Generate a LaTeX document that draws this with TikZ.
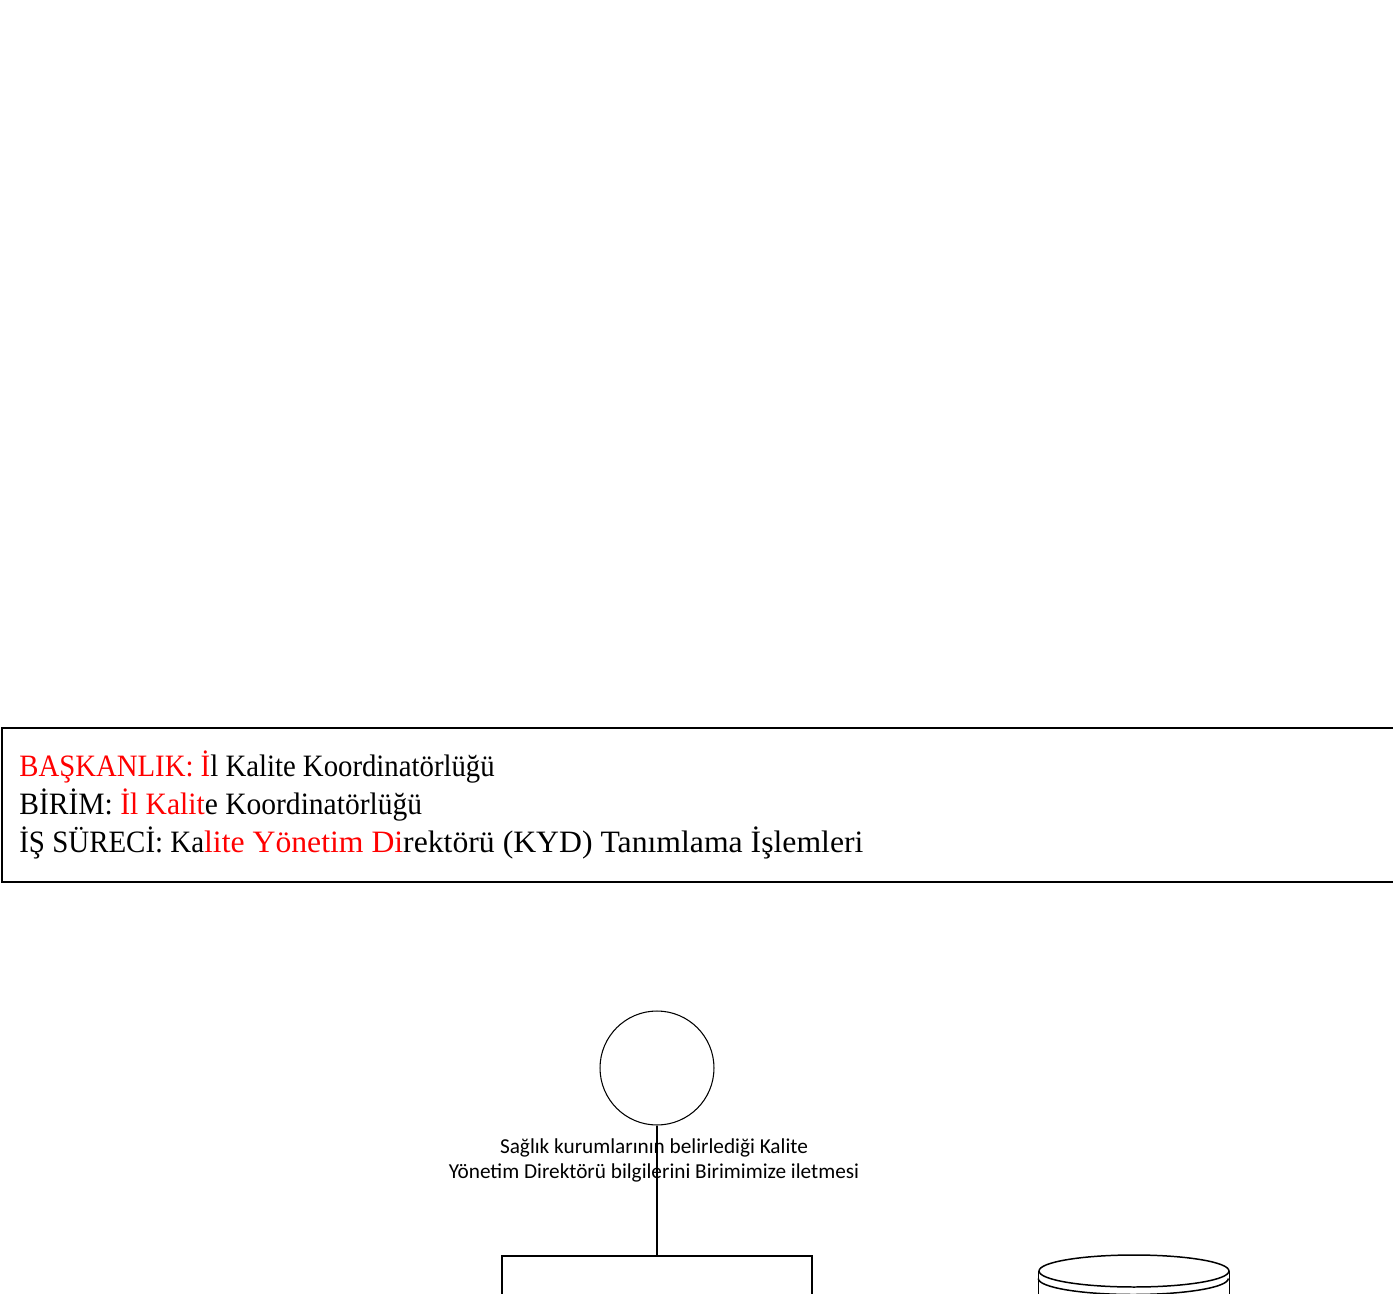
\documentclass[tikz,border=0pt]{standalone}
\usepackage{fontspec}
\setmainfont{Liberation Serif}
\newfontfamily\labelfont{Carlito}
\usetikzlibrary{positioning,shapes.geometric}
\definecolor{hdrred}{RGB}{255,0,0}
\newcommand{\hsq}[2]{\scalebox{#1}[1]{#2}}

\begin{document}
\begin{tikzpicture}[x=0.02cm,y=-0.02cm,
    hdrbox/.style={draw,line width=1.1pt,minimum width=29cm,minimum height=3.08cm,inner sep=0pt,anchor=north west},
    hdrtext/.style={align=left,anchor=west,inner sep=0pt,font=\fontsize{17.7}{21.5}\selectfont},
    startnode/.style={circle,draw,line width=0.6pt,minimum size=2.28cm,inner sep=0pt},
    procbox/.style={draw,line width=0.85pt,minimum width=6.2cm,minimum height=2.4cm,anchor=north,inner sep=0pt},
    steplabel/.style={align=center,inner sep=0pt,font=\labelfont\fontsize{12.1}{14.2}\selectfont},
    dbtop/.style={ellipse,draw,line width=0.85pt,minimum width=3.8cm,minimum height=0.64cm,inner sep=0pt}]
  \useasboundingbox (0,0) rectangle (1393,1294);
  \clip (0,0) rectangle (1393,1294);
  % header
  \node[hdrbox] (header) at (1,727) {};
  \node[hdrtext] (hdrinfo) at (19,805) {%
    \hsq{0.925}{\textcolor{hdrred}{BAŞKANLIK: İ}l Kalite Koordinatörlüğü}\\
    \hsq{0.95}{BİRİM: \textcolor{hdrred}{İl Kalit}e Koordinatörlüğü}\\
    \hsq{0.93}{İŞ SÜRECİ: Ka}\hsq{1.02}{\textcolor{hdrred}{lite Yönetim Di}rektörü (KYD) Tanımlama İşlemleri}};
  % flow
  \node[startnode] (start) at (657,1068) {};
  \node[steplabel] (lbl) at (654,1160) {Sağlık kurumlarının belirlediği Kalite\\Yönetim Direktörü bilgilerini Birimimize iletmesi};
  \node[procbox] (proc) at (657,1255) {};
  \draw[line width=0.85pt] (start) -- (proc);
  % database
  \node[dbtop] (db) at (1134,1271) {};
  \draw[line width=0.85pt] (db.west) -- ++(0,60) (db.east) -- ++(0,60);
  \draw[line width=0.85pt] ([yshift=-0.15cm]db.west) arc (180:0:95 and 16);
\end{tikzpicture}
\end{document}
